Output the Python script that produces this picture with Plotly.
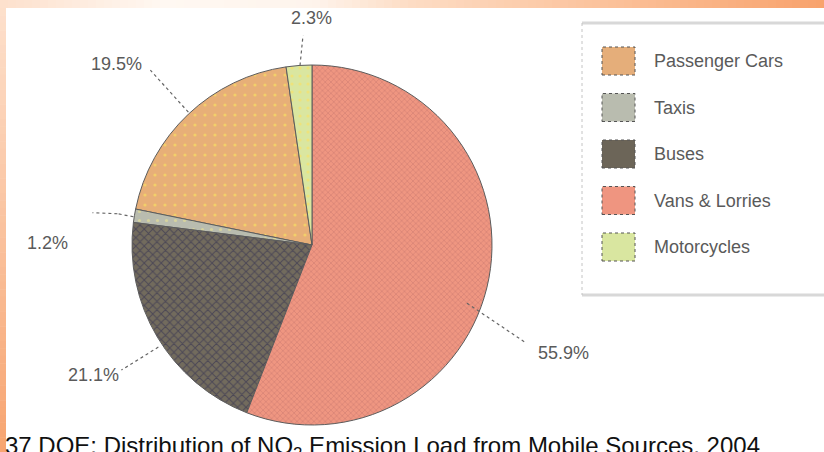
import math
import plotly.graph_objects as go

# ---------------- data ----------------
categories = ["Passenger Cars", "Taxis", "Buses", "Vans & Lorries", "Motorcycles"]
shares = [19.5, 1.2, 21.1, 55.9, 2.3]
caption = "37 DOE: Distribution of NO<sub>2</sub> Emission Load from Mobile Sources, 2004"

# ---------------- styles ----------------
bg_colors = ["#E7AF78", "#B9BCAF", "#726B5D", "#EF9681", "#DAE6A0"]
fg_colors = ["#F3CF6A", "#D6D39E", "#4C4856", "#D88476", "#EEE37A"]
pattern_shapes = [".", ".", "x", "x", "."]
pattern_sizes = [10, 9, 6, 4, 8]
pattern_solidity = [0.08, 0.1, 0.3, 0.35, 0.12]
swatch_colors = ["#E5AE7A", "#B9BCAF", "#6C6558", "#EF9580", "#D9E6A0"]

W, H = 824, 452
CX, CY, R = 312, 245, 180


def px(x):
    return x / W


def py(y):
    return 1 - y / H


total = sum(shares)
# slices run counter-clockwise in data order; Motorcycles sits just left of 12 o'clock
rotation = -(shares[-1] + shares[0]) / total * 360

fig = go.Figure()
fig.add_trace(go.Pie(
    labels=categories,
    values=shares,
    sort=False,
    direction="counterclockwise",
    rotation=rotation,
    textinfo="none",
    hoverinfo="skip",
    showlegend=False,
    domain=dict(x=[px(CX - R), px(CX + R)], y=[py(CY + R), py(CY - R)]),
    marker=dict(
        colors=bg_colors,
        line=dict(color="#5c5c5c", width=1),
        pattern=dict(shape=pattern_shapes, fgcolor=fg_colors, bgcolor=bg_colors,
                     size=pattern_sizes, solidity=pattern_solidity, fillmode="replace"),
    ),
))

shapes = []
annotations = []

# ---------- label leader lines & labels (positioned from slice mid-angles) ----------
ccw_mid = []
for i, v in enumerate(shares):
    if i == len(shares) - 1:
        start = 0.0
    else:
        start = shares[-1] + sum(shares[:i])
    ccw_mid.append(start + v / 2)

leader_offsets = [
    [(0, -2), (-38, -44)],
    [(-1, 1), (-17, -2), (-42, -3)],
    [(1, 10), (-36, 33)],
    [(-22, 25), (36, 64)],
    [(1, 0), (4, -30)],
]
text_offsets = [(-72, -50), (-87, 27), (-64, 38), (75, 75), (12, -47)]

for i, v in enumerate(shares):
    ang = math.radians(-ccw_mid[i] / total * 360)
    ex = CX + R * math.sin(ang)
    ey = CY - R * math.cos(ang)
    pts = [(ex + dx, ey + dy) for dx, dy in leader_offsets[i]]
    for (x0, y0), (x1, y1) in zip(pts[:-1], pts[1:]):
        shapes.append(dict(type="line", xref="paper", yref="paper",
                           x0=px(x0), y0=py(y0), x1=px(x1), y1=py(y1),
                           line=dict(color="#666666", width=1.2, dash="dot")))
    tx, ty = text_offsets[i]
    annotations.append(dict(x=px(ex + tx), y=py(ey + ty), xref="paper", yref="paper",
                            text=f"{v:.1f}%", showarrow=False,
                            xanchor="center", yanchor="middle",
                            font=dict(family="Liberation Sans", size=18, color="#5a5a5a")))

# ---------- decorative gradient bands ----------
def lerp_stops(stops, t):
    for (t0, c0), (t1, c1) in zip(stops[:-1], stops[1:]):
        if t0 <= t <= t1:
            f = (t - t0) / (t1 - t0) if t1 > t0 else 0
            c = [round(a + (b - a) * f) for a, b in zip(c0, c1)]
            return f"rgb({c[0]},{c[1]},{c[2]})"
    c = stops[-1][1]
    return f"rgb({c[0]},{c[1]},{c[2]})"


top_stops = [(0.0, (253, 224, 204)), (0.2, (255, 248, 242)), (0.38, (254, 244, 236)),
             (0.5, (253, 220, 196)), (0.75, (251, 192, 152)), (1.0, (248, 162, 108))]
N = 103
for k in range(N):
    x0 = k * W / N
    x1 = (k + 1) * W / N + 0.5
    shapes.append(dict(type="rect", xref="paper", yref="paper", layer="below",
                       x0=px(x0), x1=px(x1), y0=py(8), y1=py(0),
                       fillcolor=lerp_stops(top_stops, (k + 0.5) / N), line=dict(width=0)))
left_stops = [(0.0, (253, 224, 204)), (1.0, (247, 164, 112))]
M = 60
for k in range(M):
    y0 = 8 + k * (H - 8) / M
    y1 = 8 + (k + 1) * (H - 8) / M + 0.5
    shapes.append(dict(type="rect", xref="paper", yref="paper", layer="below",
                       x0=px(0), x1=px(6), y0=py(y1), y1=py(y0),
                       fillcolor=lerp_stops(left_stops, (k + 0.5) / M), line=dict(width=0)))

# ---------- legend box ----------
shapes.append(dict(type="line", xref="paper", yref="paper", x0=px(582), x1=px(W + 2),
                   y0=py(23), y1=py(23), line=dict(color="#d8d8d8", width=3)))
shapes.append(dict(type="line", xref="paper", yref="paper", x0=px(582), x1=px(W + 2),
                   y0=py(295), y1=py(295), line=dict(color="#d8d8d8", width=3)))
shapes.append(dict(type="line", xref="paper", yref="paper", x0=px(582), x1=px(582),
                   y0=py(23), y1=py(295), line=dict(color="#c4c4c4", width=1, dash="dot")))
for i, name in enumerate(categories):
    cy = 61 + i * 46.5
    shapes.append(dict(type="rect", xref="paper", yref="paper",
                       x0=px(602), x1=px(635), y0=py(cy + 14), y1=py(cy - 14),
                       fillcolor=swatch_colors[i],
                       line=dict(color="#555555", width=1, dash="dot")))
    annotations.append(dict(x=px(652), y=py(cy), xref="paper", yref="paper",
                            text=name, showarrow=False, xanchor="left", yanchor="middle",
                            font=dict(family="Liberation Sans", size=18, color="#5a5a5a")))

# ---------- caption ----------
annotations.append(dict(x=px(3), y=py(465), xref="paper", yref="paper",
                        text=caption, showarrow=False, xanchor="left", yanchor="bottom",
                        font=dict(family="Liberation Sans", size=24, color="#111111")))

fig.update_layout(
    width=W, height=H,
    margin=dict(l=0, r=0, t=0, b=0),
    paper_bgcolor="white",
    plot_bgcolor="white",
    shapes=shapes,
    annotations=annotations,
    showlegend=False,
)

fig.write_html("out.html")
